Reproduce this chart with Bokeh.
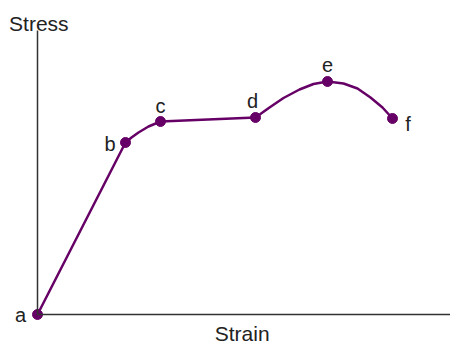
from bokeh.plotting import figure
from bokeh.models import Range1d, FixedTicker, ColumnDataSource, LabelSet, Label
from bokeh.core.properties import value
from bokeh.embed import file_html
from bokeh.resources import INLINE

# ---- data (arbitrary strain / stress units) ----
point_names = ["a", "b", "c", "d", "e", "f"]
point_strain = [0, 88, 123, 218, 290, 355]
point_stress = [0, 172, 193, 197, 233, 196]

curve_strain = [0, 88, 94, 101, 111, 123, 218, 232, 246, 262, 276, 290,
                306, 320, 333, 345, 355]
curve_stress = [0, 172, 177, 182, 188, 193, 197, 207, 216.5, 225, 230.5, 233,
                231, 226, 217, 207, 196]

x_label = "Strain"
y_label = "Stress"

# ---- label placement (offsets from each point, in axis units) ----
label_dx = [-17, -15.5, 0, -3, 0, 15.5]
label_dy = [-7, -8, 9, 10, 10, -12]

PURPLE = "#660066"
TEXT = "#222222"
FONT = "Liberation Sans"

p = figure(width=450, height=345,
           x_range=Range1d(-37, 413), y_range=Range1d(-31, 314),
           output_backend="svg", toolbar_location=None,
           min_border_left=0, min_border_right=0,
           min_border_top=0, min_border_bottom=0)
p.grid.visible = False
p.outline_line_color = None
p.background_fill_color = "white"
p.border_fill_color = "white"

for ax in (p.xaxis[0], p.yaxis[0]):
    ax.ticker = FixedTicker(ticks=[])
    ax.major_tick_out = 0
    ax.major_tick_in = 0
    ax.minor_tick_out = 0
    ax.minor_tick_in = 0
    ax.major_label_standoff = 0
    ax.axis_line_color = "#333333"
    ax.axis_line_width = 1.5
    ax.fixed_location = 0
p.xaxis[0].bounds = (0, 413)
p.yaxis[0].bounds = (0, 284)

p.line(curve_strain, curve_stress, line_color=PURPLE, line_width=2.5,
       line_join="round", line_cap="round")
p.scatter(point_strain, point_stress, size=10, color=PURPLE)

src = ColumnDataSource(dict(
    lx=[s + d for s, d in zip(point_strain, label_dx)],
    ly=[s + d for s, d in zip(point_stress, label_dy)],
    name=point_names,
))
p.add_layout(LabelSet(x="lx", y="ly", text="name", source=src,
                      text_align="center", text_baseline="alphabetic",
                      text_font=value(FONT), text_font_size=value("20px"),
                      text_color=TEXT))

p.add_layout(Label(x=1.3, y=290.7, text=y_label, text_align="center",
                   text_baseline="alphabetic", text_font=FONT,
                   text_font_size="21px", text_color=TEXT))
p.add_layout(Label(x=204.7, y=-18.5, text=x_label, text_align="center",
                   text_baseline="alphabetic", text_font=FONT,
                   text_font_size="21px", text_color=TEXT))

open("out.html", "w").write(file_html(p, INLINE))
